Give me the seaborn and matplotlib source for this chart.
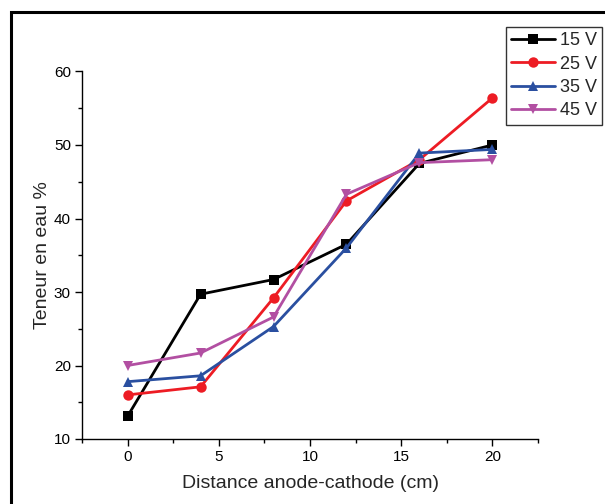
import numpy as np
import pandas as pd
import matplotlib
matplotlib.use("Agg")
import matplotlib.pyplot as plt
import matplotlib.patches as mpatches
from matplotlib.ticker import MultipleLocator
import seaborn as sns

distance = [0, 4, 8, 12, 16, 20]
v15 = [13.1, 29.7, 31.7, 36.5, 47.5, 50.0]
v25 = [16.0, 17.1, 29.2, 42.4, 48.0, 56.4]
v35 = [17.8, 18.6, 25.3, 36.0, 48.9, 49.4]
v45 = [20.0, 21.7, 26.6, 43.3, 47.6, 48.0]
series_names = ["15 V", "25 V", "35 V", "45 V"]

df = pd.concat([
    pd.DataFrame({"x": distance, "y": vals, "serie": name})
    for name, vals in zip(series_names, [v15, v25, v35, v45])
], ignore_index=True)

sns.set_style("ticks")
plt.rcParams["font.family"] = ["Liberation Sans", "DejaVu Sans"]

fig = plt.figure(figsize=(6.05, 5.04), dpi=100)
ax = fig.add_axes([82/605, 1-439/504, (538-82)/605, (439-71.5)/504])

palette = {"15 V": "#000000", "25 V": "#ED1C24", "35 V": "#2A4FA0", "45 V": "#B24FA2"}
markers = {"15 V": "s", "25 V": "o", "35 V": "^", "45 V": "v"}
sns.lineplot(data=df, x="x", y="y", hue="serie", style="serie", palette=palette,
             markers=markers, dashes=False, linewidth=2.0, markersize=7.5,
             markeredgewidth=0, ax=ax, legend=True)

ax.set_xlim(-2.5, 22.5)
ax.set_ylim(10, 60)
ax.xaxis.set_major_locator(MultipleLocator(5))
ax.xaxis.set_minor_locator(MultipleLocator(2.5))
ax.yaxis.set_major_locator(MultipleLocator(10))
ax.yaxis.set_minor_locator(MultipleLocator(5))
ax.tick_params(which="major", direction="out", length=5, width=1, labelsize=11,
               pad=3, color="black", labelcolor="black")
ax.tick_params(which="minor", direction="out", length=3, width=1, color="black")
sns.despine(ax=ax)
for s in ["left", "bottom"]:
    ax.spines[s].set_linewidth(1.0)
    ax.spines[s].set_color("black")
ax.set_xlabel("Distance anode-cathode (cm)", fontsize=14, labelpad=8)
ax.set_ylabel("Teneur en eau %", fontsize=14, labelpad=2)

handles, labels = ax.get_legend_handles_labels()
leg = ax.legend(handles, labels, loc="upper left", bbox_to_anchor=(506/605, 1-27/504),
                bbox_transform=fig.transFigure, frameon=True, fancybox=False,
                edgecolor="black", fontsize=13, handlelength=2.4, handletextpad=0.28,
                borderpad=0.3, labelspacing=0.35, borderaxespad=0)
leg.get_frame().set_linewidth(1.0)
for h in leg.legend_handles:
    h.set_markersize(7.5)
    h.set_linewidth(2.0)

fig.add_artist(mpatches.Rectangle((11/605, -0.1), 1.2, 1 - 12/504 + 0.1,
                                  transform=fig.transFigure, fill=False,
                                  edgecolor="black", linewidth=2.2, clip_on=False))

fig.savefig("out.png", dpi=100, facecolor="white")
